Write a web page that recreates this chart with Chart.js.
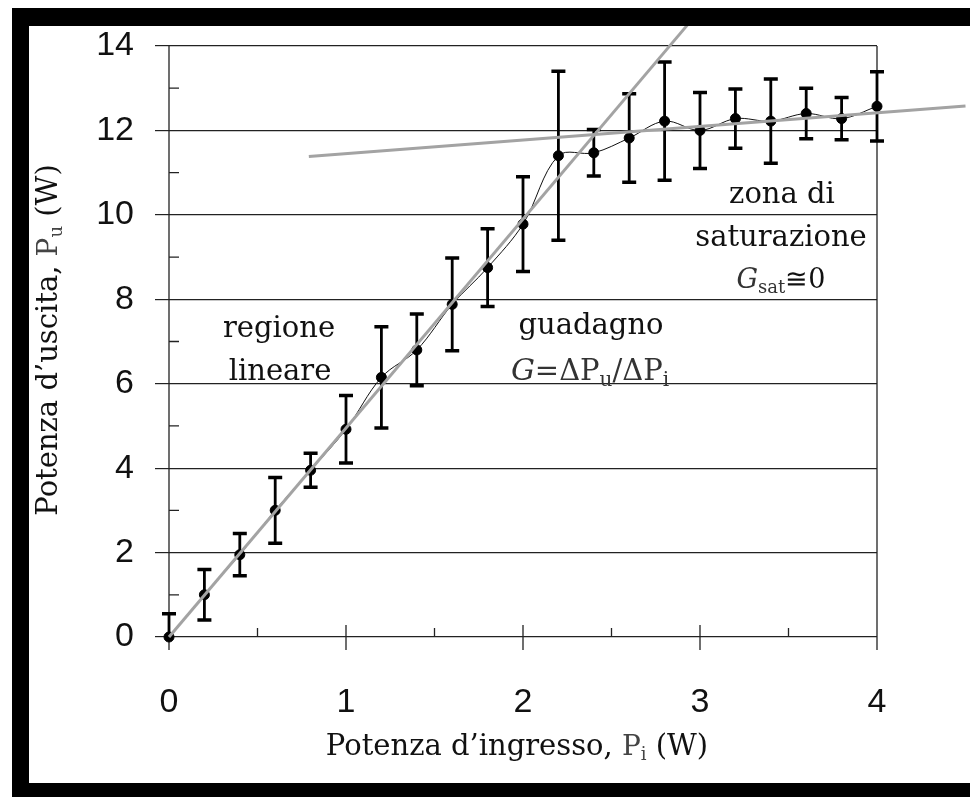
<!DOCTYPE html>
<html lang="it">
<head>
<meta charset="utf-8">
<title>Potenza d'uscita vs potenza d'ingresso</title>
<script src="https://cdn.jsdelivr.net/npm/chart.js@4.4.1/dist/chart.umd.min.js"></script>
<style>
  html, body { margin: 0; padding: 0; background: #fff; }
  #grafica { display: block; }
</style>
</head>
<body>
<canvas id="grafica" width="970" height="797"></canvas>
<script>
// Dati misurati (W)
const potIngresso = [0, 0.2, 0.4, 0.6, 0.8, 1.0, 1.2, 1.4, 1.6, 1.8, 2.0, 2.2, 2.4, 2.6, 2.8, 3.0, 3.2, 3.4, 3.6, 3.8, 4.0];
const potUscita   = [0, 1.0, 1.95, 3.0, 3.95, 4.92, 6.15, 6.8, 7.88, 8.75, 9.78, 11.4, 11.47, 11.82, 12.22, 12.0, 12.28, 12.22, 12.4, 12.28, 12.57];
const errore      = [0.55, 0.6, 0.5, 0.78, 0.4, 0.8, 1.2, 0.85, 1.1, 0.92, 1.12, 2.0, 0.55, 1.05, 1.4, 0.9, 0.7, 1.0, 0.6, 0.5, 0.82];

// Rette grigie: regione lineare e zona di saturazione (estremi)
const rettaLinX = [0, 3.0];
const rettaLinY = [0, 14.85];
const rettaSatX = [0.79, 4.5];
const rettaSatY = [11.38, 12.58];

// Tacche degli assi
const tickY = [0, 2, 4, 6, 8, 10, 12, 14];
const tickYMinori = [1, 3, 5, 7, 9, 11, 13];
const tickX = [0, 1, 2, 3, 4];
const tickXMinori = [0.5, 1.5, 2.5, 3.5];

const serif = '"DejaVu Serif", serif';

function aPunti(xs, ys) {
    return xs.map((x, i) => ({ x: x, y: ys[i] }));
}

// Testo con pedici: parti = [testo, font, dy, colore]
function scriviRicco(ctx, parti, cx, cy, rot) {
    let larghezza = 0;
    parti.forEach(p => { ctx.font = p[1]; larghezza += ctx.measureText(p[0]).width; });
    ctx.save();
    ctx.translate(cx, cy);
    if (rot) ctx.rotate(rot);
    ctx.textBaseline = 'alphabetic';
    ctx.textAlign = 'left';
    let xx = -larghezza / 2;
    parti.forEach(p => {
        ctx.font = p[1];
        ctx.fillStyle = p[3] || '#111';
        ctx.fillText(p[0], xx, p[2] || 0);
        xx += ctx.measureText(p[0]).width;
    });
    ctx.restore();
}

const pluginSfondo = {
    id: 'sfondo',
    beforeDraw(chart) {
        const ctx = chart.ctx;
        ctx.save();
        ctx.fillStyle = '#fff';
        ctx.fillRect(0, 0, chart.width, chart.height);
        ctx.restore();
    }
};

const pluginAssi = {
    id: 'assi',
    beforeDatasetsDraw(chart) {
        const { ctx, chartArea: a, scales: { x, y } } = chart;
        ctx.save();
        ctx.strokeStyle = '#222';
        ctx.lineWidth = 1.3;
        ctx.beginPath();
        // asse y e bordo destro (scendono fino alla tacca)
        ctx.moveTo(a.left, a.top); ctx.lineTo(a.left, a.bottom + 13);
        ctx.moveTo(a.right, a.top); ctx.lineTo(a.right, a.bottom + 13);
        tickYMinori.forEach(v => {
            const py = y.getPixelForValue(v);
            ctx.moveTo(a.left, py); ctx.lineTo(a.left + 10, py);
        });
        tickX.forEach(v => {
            const px = x.getPixelForValue(v);
            ctx.moveTo(px, a.bottom - 12); ctx.lineTo(px, a.bottom + 13);
        });
        tickXMinori.forEach(v => {
            const px = x.getPixelForValue(v);
            ctx.moveTo(px, a.bottom - 9); ctx.lineTo(px, a.bottom);
        });
        ctx.stroke();

        // barre d'errore
        ctx.beginPath();
        ctx.rect(a.left - 12, a.top, a.width + 24, a.height);
        ctx.clip();
        ctx.strokeStyle = '#000';
        potIngresso.forEach((xi, i) => {
            const px = x.getPixelForValue(xi);
            const alto = y.getPixelForValue(potUscita[i] + errore[i]);
            const basso = y.getPixelForValue(potUscita[i] - errore[i]);
            ctx.lineWidth = 2.8;
            ctx.beginPath();
            ctx.moveTo(px, alto); ctx.lineTo(px, basso);
            ctx.stroke();
            ctx.lineWidth = 3.5;
            ctx.beginPath();
            ctx.moveTo(px - 7, alto); ctx.lineTo(px + 7, alto);
            ctx.moveTo(px - 7, basso); ctx.lineTo(px + 7, basso);
            ctx.stroke();
        });
        ctx.restore();
    }
};

const pluginTesti = {
    id: 'testi',
    afterDraw(chart) {
        const ctx = chart.ctx;
        const f = s => s + 'px ' + serif;
        const fi = s => 'italic ' + s + 'px ' + serif;

        // annotazioni
        scriviRicco(ctx, [['regione', f(29)]], 279, 337);
        scriviRicco(ctx, [['lineare', f(29)]], 280, 380);
        scriviRicco(ctx, [['guadagno', f(29)]], 591, 334);
        scriviRicco(ctx, [
            ['G', fi(30), 0, '#333'], ['=ΔP', f(29), 0, '#333'], ['u', f(20), 6, '#333'],
            ['/ΔP', f(29), 0, '#333'], ['i', f(20), 6, '#333']
        ], 590, 380);
        scriviRicco(ctx, [['zona di', f(29)]], 782, 203);
        scriviRicco(ctx, [['saturazione', f(29)]], 781, 246);
        scriviRicco(ctx, [
            ['G', fi(27), 0, '#333'], ['sat', f(18), 5, '#333'], ['≅0', f(27), 0, '#111']
        ], 781, 288);

        // titoli degli assi
        scriviRicco(ctx, [
            ['Potenza d’ingresso, ', f(29)], ['P', f(28), 0, '#444'], ['i', f(18), 5, '#444'], [' (W)', f(29)]
        ], 517, 755);
        scriviRicco(ctx, [
            ['Potenza d’uscita, ', f(29)], ['P', f(28), 0, '#444'], ['u', f(18), 5, '#444'], [' (W)', f(29)]
        ], 57, 340, -Math.PI / 2);

        // cornice nera
        ctx.save();
        ctx.fillStyle = '#000';
        ctx.fillRect(12, 8, chart.width - 12, 18);
        ctx.fillRect(12, 8, 17, chart.height - 8);
        ctx.fillRect(12, 783, chart.width - 12, 14);
        ctx.restore();
    }
};

function generarGrafica(idCanvas) {
    const ctx = document.getElementById(idCanvas).getContext('2d');

    return new Chart(ctx, {
        type: 'scatter',
        data: {
            datasets: [
                {
                    label: 'Retta lineare',
                    data: aPunti(rettaLinX, rettaLinY),
                    showLine: true,
                    borderColor: '#a3a3a3',
                    borderWidth: 3,
                    pointRadius: 0,
                    clip: false
                },
                {
                    label: 'Retta saturazione',
                    data: aPunti(rettaSatX, rettaSatY),
                    showLine: true,
                    borderColor: '#a3a3a3',
                    borderWidth: 3,
                    pointRadius: 0,
                    clip: false
                },
                {
                    label: 'Misure',
                    data: aPunti(potIngresso, potUscita),
                    showLine: true,
                    tension: 0.35,
                    borderColor: '#111',
                    borderWidth: 1,
                    pointRadius: 5,
                    pointBackgroundColor: '#000',
                    pointBorderColor: '#000',
                    clip: false
                }
            ]
        },
        options: {
            responsive: false,
            animation: false,
            events: [],
            layout: { padding: { top: 46, right: 93, left: 0, bottom: 0 } },
            scales: {
                x: {
                    type: 'linear',
                    min: 0,
                    max: 4,
                    afterFit: s => { s.height = 160; },
                    afterBuildTicks: s => { s.ticks = tickX.map(v => ({ value: v })); },
                    border: { display: false },
                    grid: { display: false },
                    ticks: {
                        padding: 37,
                        color: '#111',
                        font: { family: 'Liberation Sans', size: 34 }
                    }
                },
                y: {
                    min: 0,
                    max: 14,
                    afterFit: s => { s.width = 169; },
                    afterBuildTicks: s => { s.ticks = tickY.map(v => ({ value: v })); },
                    border: { display: false },
                    grid: { color: '#222', lineWidth: 1.2, tickLength: 14, tickColor: '#222' },
                    ticks: {
                        padding: 21,
                        color: '#111',
                        font: { family: 'Liberation Sans', size: 34 }
                    }
                }
            },
            plugins: {
                legend: { display: false },
                tooltip: { enabled: false }
            }
        },
        plugins: [pluginSfondo, pluginAssi, pluginTesti]
    });
}

generarGrafica('grafica');
</script>
</body>
</html>
